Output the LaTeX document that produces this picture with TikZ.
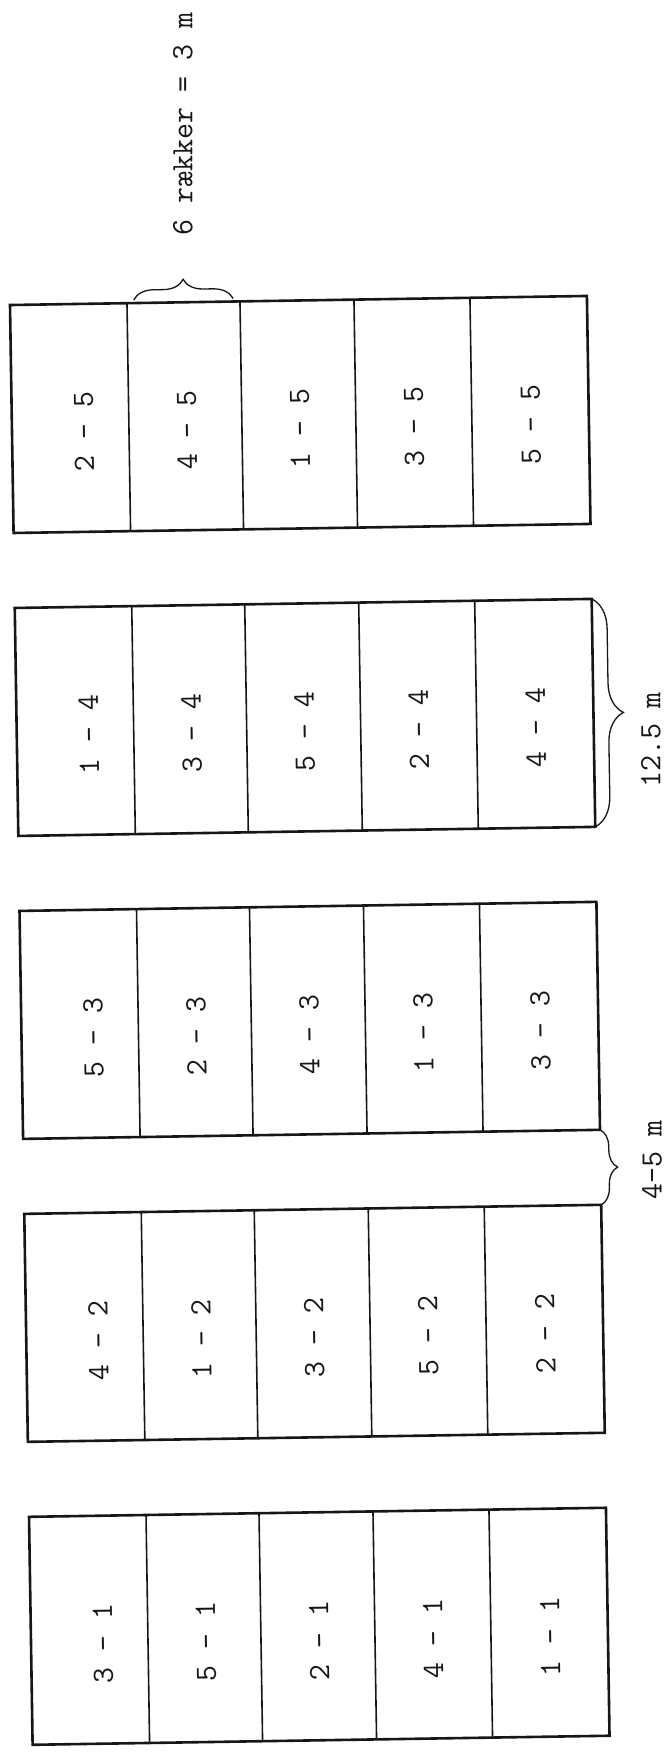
\documentclass[tikz,border=0pt]{standalone}
\usepackage{fontspec}
\usetikzlibrary{decorations.pathreplacing,calc}
\definecolor{blaek}{HTML}{161616}
\tikzset{
  kant/.style={line width=2.6pt,blaek},
  skille/.style={line width=1.6pt,blaek},
  felt/.style={rotate=90.9,font=\fontsize{31}{31}\selectfont\ttfamily,text=blaek,inner sep=0pt},
  maal/.style={rotate=90,font=\fontsize{31}{31}\selectfont\ttfamily,text=blaek,inner sep=0pt},
  klamme/.style={line width=1.3pt,blaek,decorate,decoration={brace,amplitude=#1}}
}
% en blok: #1 navn, #2 overkant, #3 parceller
\newcommand{\blok}[3]{%
  \coordinate (#1-nw) at (10,#2);
  \coordinate (#1-ne) at (587,#2);
  \coordinate (#1-se) at (587,{#2-228});
  \coordinate (#1-sw) at (10,{#2-228});
  \draw[kant] (#1-nw) rectangle (#1-se);
  \foreach \d [count=\k] in {127,240,354,470}
    \draw[skille] (\d,#2) coordinate (#1-d\k) -- (\d,{#2-228});
  \foreach \t [count=\i] in {#3} {
    \pgfmathsetmacro{\mx}{{82,185,298,412,529}[\i-1]}
    \node[felt] (#1-\i) at (\mx,{#2-128}) {\t};
  }}

\begin{document}
\begin{tikzpicture}[x=1pt,y=1pt]
  \useasboundingbox (0,0) rectangle (668,1753);
  \begin{scope}[rotate around={0.9:(10,1448)}]
  % blokke
  \blok{b5}{1448}{2 - 5,4 - 5,1 - 5,3 - 5,5 - 5}
  \blok{b4}{1145}{1 - 4,3 - 4,5 - 4,2 - 4,4 - 4}
  \blok{b3}{842}{5 - 3,2 - 3,4 - 3,1 - 3,3 - 3}
  \blok{b2}{539}{4 - 2,1 - 2,3 - 2,5 - 2,2 - 2}
  \blok{b1}{236}{3 - 1,5 - 1,2 - 1,4 - 1,1 - 1}
  % klammer
  \draw[klamme=20pt,decoration={raise=3pt}] ($(b5-d1)!0.06!(b5-d2)$) -- ($(b5-d1)!0.94!(b5-d2)$);
  \draw[klamme=30pt] (b4-ne) -- (b4-se);
  \draw[klamme=17pt] (b3-se) -- (b2-ne);
  \end{scope}
  % maal
  \node[maal] (raekker) at (183,1629) {6 rækker = 3 m};
  \node[maal] (laengde) at (651,1013) {12.5 m};
  \node[maal] (afstand) at (652,593) {4–5 m};
\end{tikzpicture}
\end{document}
